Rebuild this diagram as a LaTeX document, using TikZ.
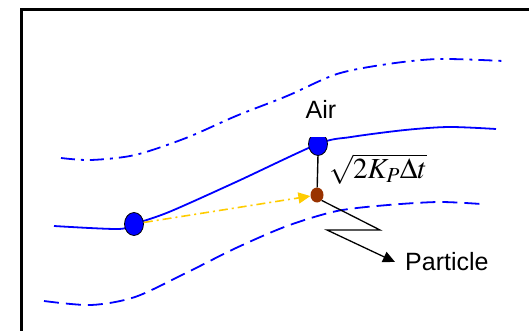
\documentclass[tikz,border=0pt]{standalone}
\usepackage{amsmath,amssymb}
\usepackage{mathptmx}
\usepackage[no-math]{fontspec}
\setsansfont{Liberation Sans}
\usetikzlibrary{positioning,arrows.meta,shapes.geometric}
\definecolor{flowyellow}{RGB}{255,204,0}
\definecolor{partbrown}{RGB}{153,51,0}

\begin{document}
\begin{tikzpicture}[x=1pt,y=-1pt,>={Triangle[length=12pt,width=11pt]},
  dot/.style={ellipse,draw=black,fill=blue,line width=0.8pt,minimum width=19pt,minimum height=23pt,inner sep=0pt},
  stream/.style={blue,line width=1.8pt},
  lbl/.style={font=\sffamily\fontsize{25}{28}\selectfont,inner sep=0pt}]
\useasboundingbox (0,0) rectangle (529,331);
\draw[line width=3pt] (21,345) -- (21,10) -- (545,10);
\draw[stream,dash pattern=on 14pt off 6pt on 3pt off 6pt] plot[smooth] coordinates {(61,158) (91,160) (135,155) (186,138) (236,116) (287,96) (337,74) (388,64) (439,59) (503,61)};
\draw[stream] plot[smooth] coordinates {(54,226) (118,229) (134,224) (169,212) (236,182) (318,144) (351,137) (405,130) (449,127) (496,129)};
\draw[stream,dash pattern=on 15pt off 7pt] plot[smooth] coordinates {(44,301) (91,305) (135,297) (186,273) (236,248) (287,226) (337,211) (388,205) (439,202) (481,204)};
\node[dot] (start) at (134,224) {};
\begin{scope}
\clip (295,138) rectangle (345,170);
\node[dot] (air) at (318,144) {};
\end{scope}
\node[lbl] (airlbl) at (321,109) {Air};
\node[ellipse,fill=partbrown,minimum width=13pt,minimum height=15pt,inner sep=0pt] (prt) at (317,195) {};
\draw[line width=1.4pt] (318,155) -- (prt);
\node[inner sep=0pt] (disp) at (378,169) {\fontsize{29}{32}\selectfont$\sqrt{2K_P\Delta t}$};
\draw[flowyellow,line width=1.6pt,dash pattern=on 9pt off 4pt on 2pt off 4pt,->] (start) -- (prt);
\node[lbl,anchor=west,inner xsep=10pt] (part) at (395,262) {Particle};
\coordinate (k1) at (380,230);
\coordinate (k2) at (327,230);
\draw[line width=1.3pt,->] (prt.south east) -- (k1) -- (k2) -- (part.west);
\end{tikzpicture}
\end{document}
